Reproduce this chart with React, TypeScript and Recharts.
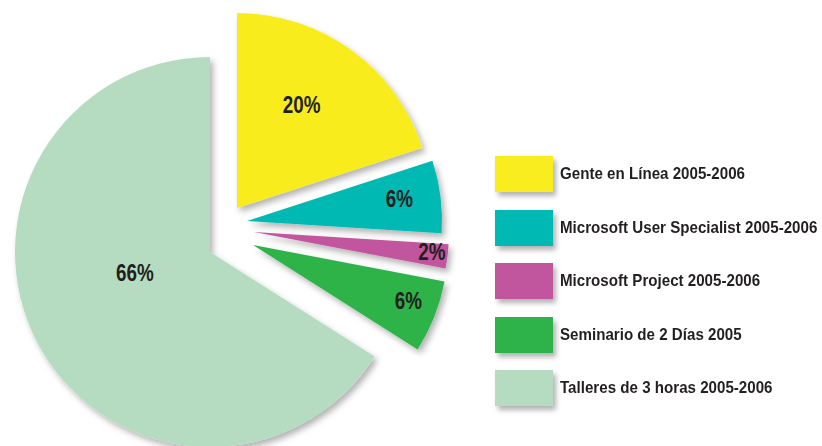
import { PieChart, Pie, Cell, Sector, Legend } from "recharts";

const categories = [
  "Gente en Línea 2005-2006",
  "Microsoft User Specialist 2005-2006",
  "Microsoft Project 2005-2006",
  "Seminario de 2 Días 2005",
  "Talleres de 3 horas 2005-2006",
];
const shares = [20, 6, 2, 6, 66];

const sliceColors = ["#f9ec1f", "#00b9b3", "#c1569f", "#2db34a", "#b5dcc0"];
// exploded slices: shift of each slice's apex from the pie centre, in px
const explodeShift = [
  [27, -44],
  [37, -31],
  [44, -20],
  [43, -7],
  [0, 0],
];
// where the % label sits: distance from apex and angle nudge (deg)
const labelRadius = [122, 154, 179, 165];
const labelNudge = [4, 1.2, 1, 2];
labelRadius.push(78);
labelNudge.push(-13);

// no condensed Helvetica here, so squeeze Liberation Sans horizontally
const FONT = "'Liberation Sans', Arial, sans-serif";
const RAD = Math.PI / 180;

const data = categories.map((name, i) => ({ name, value: shares[i] }));

function ExplodedSlice(props: any) {
  const { cx, cy, innerRadius, outerRadius, startAngle, endAngle, fill, index } = props;
  const [dx, dy] = explodeShift[index] ?? [0, 0];
  return (
    <g filter="url(#softShadow)">
      <Sector
        cx={cx + dx}
        cy={cy + dy}
        innerRadius={innerRadius}
        outerRadius={outerRadius}
        startAngle={startAngle}
        endAngle={endAngle}
        fill={fill}
        stroke="none"
      />
    </g>
  );
}

function SliceLabel(props: any) {
  const { cx, cy, midAngle, index, value } = props;
  const [dx, dy] = explodeShift[index] ?? [0, 0];
  const a = (midAngle + labelNudge[index]) * RAD;
  const r = labelRadius[index];
  const x = cx + dx + r * Math.cos(a);
  const y = cy + dy - r * Math.sin(a);
  return (
    <text
      transform={`translate(${x},${y}) scale(0.82,1)`}
      textAnchor="middle"
      dominantBaseline="central"
      fontFamily={FONT}
      fontWeight="bold"
      fontSize={23}
      fill="#231f20"
    >
      {value}%
    </text>
  );
}

function LegendBox() {
  return (
    <div style={{ fontFamily: FONT }}>
      {categories.map((name, i) => (
        <div
          key={name}
          style={{ display: "flex", alignItems: "center", height: 53.5 }}
        >
          <div
            style={{
              flexShrink: 0,
              width: 58,
              height: 36,
              background: sliceColors[i],
              boxShadow: "3px 4px 5px rgba(0,0,0,0.3)",
              marginTop: -17,
            }}
          />
          <span
            style={{
              marginLeft: 7,
              marginTop: -17,
              fontSize: 17,
              fontWeight: "bold",
              color: "#231f20",
              whiteSpace: "nowrap",
              display: "inline-block",
              transform: "scaleX(0.89)",
              transformOrigin: "left center",
            }}
          >
            {name}
          </span>
        </div>
      ))}
    </div>
  );
}

export default function App() {
  return (
    <div style={{ position: "absolute", left: 0, top: 0, width: 822, height: 446, background: "#fff" }}>
      <PieChart width={822} height={446} margin={{ top: 0, right: 0, bottom: 0, left: 0 }}>
        <defs>
          <filter id="softShadow" x="-20%" y="-20%" width="140%" height="140%">
            <feDropShadow dx="3" dy="4" stdDeviation="3" floodColor="#000" floodOpacity="0.3" />
          </filter>
        </defs>
        <Pie
          data={data}
          dataKey="value"
          nameKey="name"
          cx={210}
          cy={252}
          innerRadius={0}
          outerRadius={195}
          startAngle={90}
          endAngle={-270}
          stroke="none"
          shape={ExplodedSlice}
          label={SliceLabel}
          labelLine={false}
          isAnimationActive={false}
        >
          {data.map((d, i) => (
            <Cell key={d.name} fill={sliceColors[i]} />
          ))}
        </Pie>
        <Legend
          content={<LegendBox />}
          layout="vertical"
          wrapperStyle={{ position: "absolute", left: 495, top: 156, width: 327 }}
        />
      </PieChart>
    </div>
  );
}
